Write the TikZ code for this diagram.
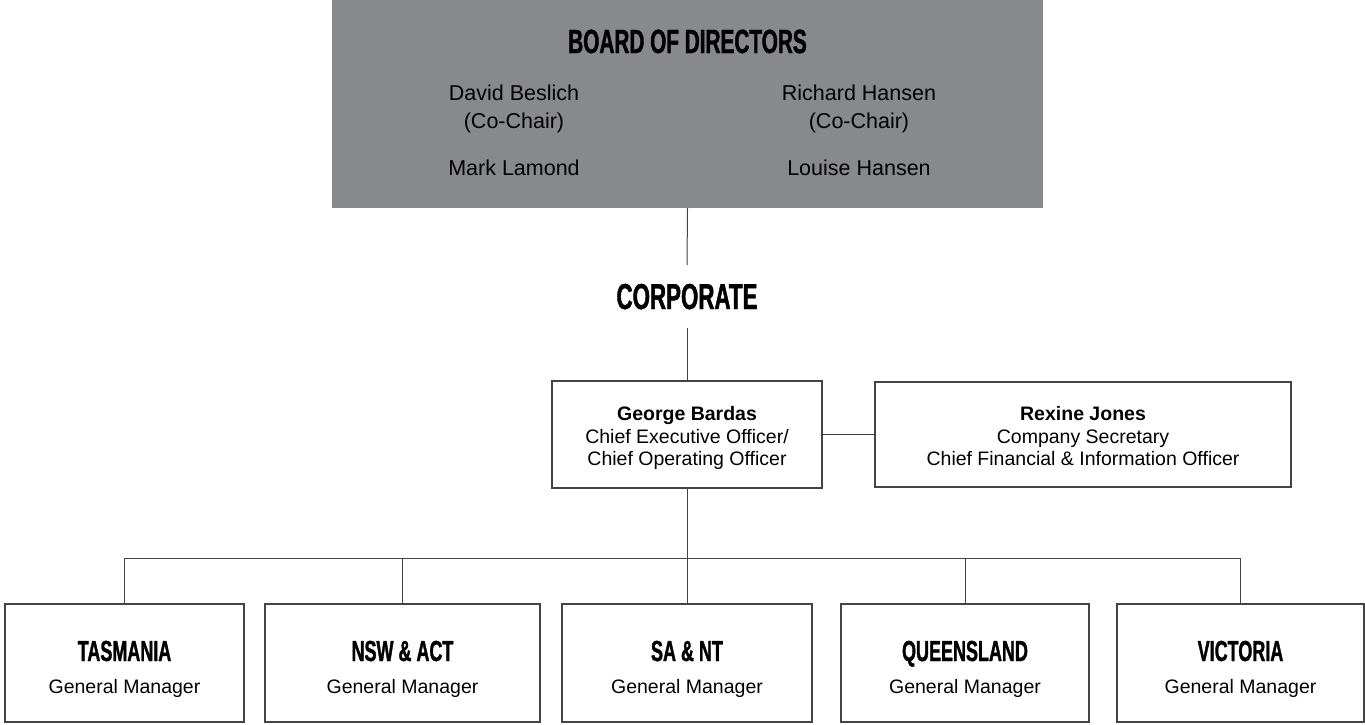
\documentclass[tikz,border=0pt]{standalone}
\usepackage{fontspec}
\setmainfont{Liberation Sans}
\newfontfamily\headfont[FakeStretch=0.62,FakeBold=1.2]{Liberation Sans Bold}
\definecolor{boardgray}{HTML}{88898C}
\definecolor{linegray}{HTML}{444444}
\begin{document}
\begin{tikzpicture}[x=1pt,y=-1pt,
  frame/.style={draw=linegray,line width=1.1pt,inner sep=0pt,fill=white},
  conn/.style={draw=linegray,line width=1pt},
  body/.style={anchor=base,inner sep=0pt,font=\fontsize{19.5}{22}\selectfont},
  bodyb/.style={body,font=\fontsize{19.5}{22}\selectfont\bfseries},
  names/.style={anchor=base,inner sep=0pt,font=\fontsize{21.5}{24}\selectfont},
  region/.style={anchor=base,inner sep=0pt,font=\headfont\fontsize{29}{30}\selectfont},
]
\useasboundingbox (0,0) rectangle (1365,724);
% Board
\node[fill=boardgray,inner sep=0pt,minimum width=711pt,minimum height=208pt] (board) at (687.5,104) {};
\node[anchor=base,inner sep=0pt,font=\headfont\fontsize{33.5}{34}\selectfont] (boardT) at (687.5,53) {BOARD OF DIRECTORS};
\node[names] (n1) at (514,100) {David Beslich};
\node[names] (n2) at (514,128) {(Co-Chair)};
\node[names] (n3) at (514,175) {Mark Lamond};
\node[names] (n4) at (859,100) {Richard Hansen};
\node[names] (n5) at (859,128) {(Co-Chair)};
\node[names] (n6) at (859,175) {Louise Hansen};
% Corporate
\node[anchor=base,inner xsep=0pt,inner ysep=18.5pt,font=\headfont\fontsize{36}{37}\selectfont] (corp) at (687,309) {CORPORATE};
\draw[conn] (board.south) -- (corp.north);
% CEO and Secretary
\node[frame,minimum width=270pt,minimum height=107pt] (ceo) at (687,434.5) {};
\node[frame,minimum width=416pt,minimum height=105pt] (rex) at (1083,434.5) {};
\draw[conn] (corp.south) -- (ceo.north);
\draw[conn] (ceo.east) -- (rex.west);
\node[bodyb] (ceo1) at (687,420) {George Bardas};
\node[body] (ceo2) at (687,443) {Chief Executive Officer/};
\node[body] (ceo3) at (687,465) {Chief Operating Officer};
\node[bodyb] (rex1) at (1083,420) {Rexine Jones};
\node[body] (rex2) at (1083,443) {Company Secretary};
\node[body] (rex3) at (1083,465) {Chief Financial \& Information Officer};
% Regions
\node[frame,minimum width=239pt,minimum height=118pt] (tas) at (124.5,663) {};
\node[frame,minimum width=275pt,minimum height=118pt] (nsw) at (402.5,663) {};
\node[frame,minimum width=250pt,minimum height=118pt] (sa) at (687,663) {};
\node[frame,minimum width=248pt,minimum height=118pt] (qld) at (965,663) {};
\node[frame,minimum width=247pt,minimum height=118pt] (vic) at (1240.5,663) {};
\coordinate (bus) at (687,558);
\draw[conn] (ceo.south) -- (sa.north);
\draw[conn] (tas.north) |- (bus) -| (vic.north);
\draw[conn] (nsw.north) -- (nsw.north |- bus);
\draw[conn] (qld.north) -- (qld.north |- bus);
\node[region] (tasT) at (124.5,661) {TASMANIA};
\node[body] (tasG) at (124.5,693) {General Manager};
\node[region] (nswT) at (402.5,661) {NSW \& ACT};
\node[body] (nswG) at (402.5,693) {General Manager};
\node[region] (saT) at (687,661) {SA \& NT};
\node[body] (saG) at (687,693) {General Manager};
\node[region] (qldT) at (965,661) {QUEENSLAND};
\node[body] (qldG) at (965,693) {General Manager};
\node[region] (vicT) at (1240.5,661) {VICTORIA};
\node[body] (vicG) at (1240.5,693) {General Manager};
\end{tikzpicture}
\end{document}
